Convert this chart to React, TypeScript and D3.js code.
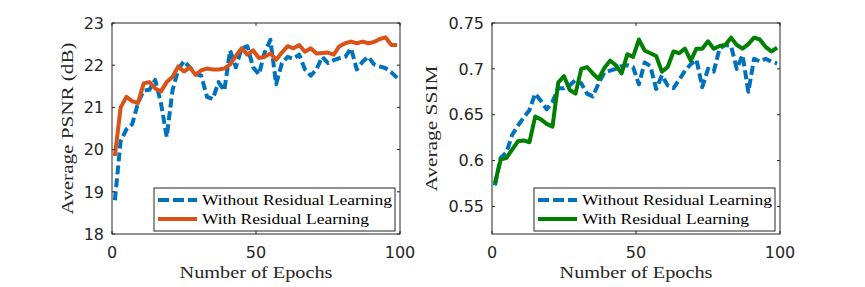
import React from 'react';
import * as d3 from 'd3';

// epochs sampled every 2
const epochs = d3.range(1, 100, 2);

const psnrWithout = [
  18.8, 20.2, 20.48, 20.6, 21.1, 21.4, 21.42, 21.65, 21.1, 20.3,
  21.4, 21.9, 22.1, 21.95, 21.8, 21.75, 21.25, 21.2, 21.6, 21.4,
  22.35, 21.95, 22.4, 22.45, 21.95, 21.78, 22.3, 22.6, 21.55, 22.05,
  22.2, 22.15, 22.25, 21.9, 21.75, 21.9, 22.2, 22.05, 22.12, 22.17,
  22.2, 22.4, 21.9, 22.08, 22.2, 22.02, 21.97, 21.93, 21.83, 21.7,
];
const psnrWith = [
  19.85, 21.0, 21.25, 21.15, 21.1, 21.57, 21.6, 21.45, 21.38, 21.6,
  21.72, 21.97, 21.85, 21.95, 21.77, 21.88, 21.92, 21.9, 21.9, 21.92,
  22.02, 22.22, 22.4, 22.25, 22.35, 22.17, 22.2, 22.28, 22.13, 22.3,
  22.45, 22.4, 22.48, 22.32, 22.4, 22.28, 22.29, 22.3, 22.25, 22.45,
  22.52, 22.56, 22.52, 22.56, 22.52, 22.55, 22.62, 22.66, 22.48, 22.48,
];
const ssimWithout = [
  0.573, 0.603, 0.609, 0.628, 0.638, 0.647, 0.655, 0.673, 0.665, 0.656,
  0.664, 0.679, 0.679, 0.682, 0.688, 0.684, 0.673, 0.67, 0.684, 0.696,
  0.698, 0.7, 0.703, 0.704, 0.702, 0.683, 0.707, 0.703, 0.678, 0.693,
  0.682, 0.679, 0.688, 0.698, 0.705, 0.71, 0.68, 0.7, 0.697, 0.722,
  0.726, 0.725, 0.7, 0.715, 0.675, 0.711, 0.708, 0.711, 0.708, 0.706,
];
const ssimWith = [
  0.575, 0.601, 0.603, 0.612, 0.621, 0.622, 0.62, 0.648, 0.645, 0.64,
  0.637, 0.685, 0.692, 0.677, 0.673, 0.7, 0.702, 0.695, 0.689, 0.701,
  0.709, 0.704, 0.695, 0.716, 0.713, 0.732, 0.72, 0.717, 0.714, 0.697,
  0.702, 0.719, 0.717, 0.722, 0.709, 0.722, 0.722, 0.73, 0.722, 0.725,
  0.726, 0.734, 0.726, 0.722, 0.727, 0.734, 0.732, 0.724, 0.719, 0.723,
];

const epochTicks = [0, 50, 100];
const psnrTicks = [18, 19, 20, 21, 22, 23];
const ssimTicks = [0.55, 0.6, 0.65, 0.7, 0.75];
const legendLabels = ['Without Residual Learning', 'With Residual Learning'];
const legendWidths = [190, 167];

const axisColor = '#262626';
const serif = '"Liberation Serif", "Times New Roman", serif';
const sans = '"DejaVu Sans", sans-serif';

type PanelProps = {
  left: number;
  yDomain: [number, number];
  yTicks: number[];
  yLabel: string;
  yLabelLen: number;
  labelX: number;
  seriesA: number[];
  seriesB: number[];
  colorB: string;
};

function Panel({ left, yDomain, yTicks, yLabel, yLabelLen, labelX, seriesA, seriesB, colorB }: PanelProps) {
  const top = 23, bottom = 234, width = 288;
  const x = d3.scaleLinear().domain([0, 100]).range([left, left + width]);
  const y = d3.scaleLinear().domain(yDomain).range([bottom, top]);
  const line = d3.line<number>().x((_, i) => x(epochs[i])).y(d => y(d));
  const tk = 3;

  const legX = left + 42, legY = 188, legW = 241, legH = 43;

  return (
    <g>
      <path d={line(seriesA) || ''} fill="none" stroke="#0072BD" strokeWidth={4}
        strokeDasharray="9 4" strokeLinejoin="round" />
      <path d={line(seriesB) || ''} fill="none" stroke={colorB} strokeWidth={4}
        strokeLinejoin="round" />

      <rect x={left} y={top} width={width} height={bottom - top} fill="none" stroke={axisColor} strokeWidth={1} />
      {epochTicks.map(t => (
        <g key={'x' + t}>
          <line x1={x(t)} x2={x(t)} y1={bottom} y2={bottom - tk} stroke={axisColor} />
          <line x1={x(t)} x2={x(t)} y1={top} y2={top + tk} stroke={axisColor} />
          <text x={x(t)} y={258} textAnchor="middle" fontFamily={sans} fontSize={16} fill={axisColor}>{t}</text>
        </g>
      ))}
      {yTicks.map(t => (
        <g key={'y' + t}>
          <line x1={left} x2={left + tk} y1={y(t)} y2={y(t)} stroke={axisColor} />
          <line x1={left + width} x2={left + width - tk} y1={y(t)} y2={y(t)} stroke={axisColor} />
          <text x={left - 8} y={y(t)} dy="0.36em" textAnchor="end" fontFamily={sans} fontSize={16} fill={axisColor}>{String(t)}</text>
        </g>
      ))}
      <text x={left + width / 2} y={278} textAnchor="middle" fontFamily={serif} fontSize={16}
        textLength={153} lengthAdjust="spacingAndGlyphs" fill={axisColor}>Number of Epochs</text>
      <text transform={`translate(${labelX},${(top + bottom) / 2}) rotate(-90)`} textAnchor="middle" dy="0.35em"
        fontFamily={serif} fontSize={16} textLength={yLabelLen} lengthAdjust="spacingAndGlyphs"
        fill={axisColor}>{yLabel}</text>

      <rect x={legX} y={legY} width={legW} height={legH} fill="#fff" stroke={axisColor} strokeWidth={1} />
      {legendLabels.map((lab, i) => {
        const ly = legY + 12 + i * 19;
        return (
          <g key={lab}>
            <line x1={legX + 4} x2={legX + 43} y1={ly} y2={ly} stroke={i === 0 ? '#0072BD' : colorB}
              strokeWidth={4} strokeDasharray={i === 0 ? '11 4' : undefined} />
            <text x={legX + 48} y={ly} dy="0.33em" fontFamily={serif} fontSize={15}
              textLength={legendWidths[i]} lengthAdjust="spacingAndGlyphs" fill="#000">{lab}</text>
          </g>
        );
      })}
    </g>
  );
}

export default function App() {
  return (
    <svg width={865} height={287} style={{ position: 'absolute', left: 0, top: 0, background: '#fff' }}>
      <rect width={865} height={287} fill="#fff" />
      <Panel left={112} yDomain={[18, 23]} yTicks={psnrTicks} yLabel="Average PSNR (dB)" yLabelLen={172}
        labelX={67} seriesA={psnrWithout} seriesB={psnrWith} colorB="#D95319" />
      <Panel left={492} yDomain={[0.52, 0.75]} yTicks={ssimTicks} yLabel="Average SSIM" yLabelLen={126}
        labelX={431} seriesA={ssimWithout} seriesB={ssimWith} colorB="#008000" />
    </svg>
  );
}
